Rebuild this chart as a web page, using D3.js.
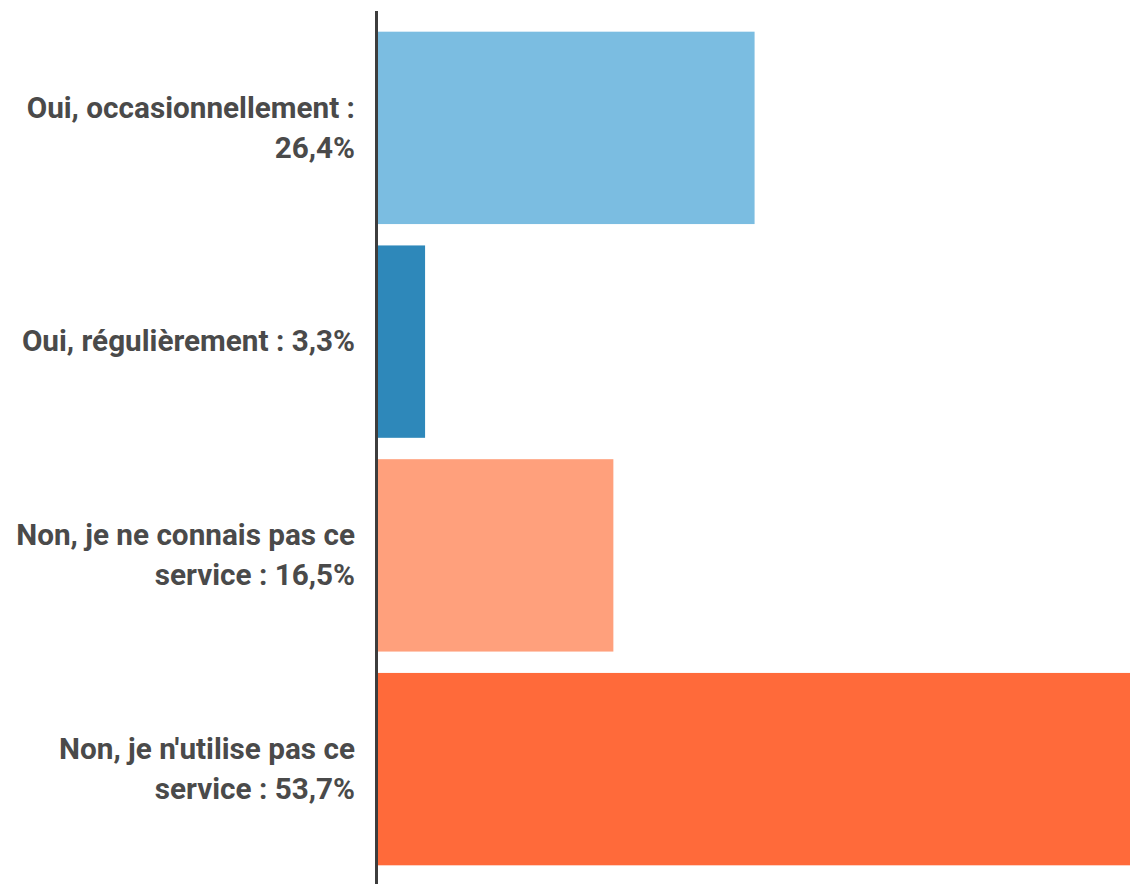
<!DOCTYPE html>
<html><head><meta charset="utf-8">
<script src="https://cdn.jsdelivr.net/npm/d3@7"></script>
<style>html,body{margin:0;padding:0;background:#fff;}svg{display:block;}</style>
</head><body>
<svg id="chart" width="1130" height="884"></svg>
<script>
const categories = ["Oui, occasionnellement", "Oui, régulièrement", "Non, je ne connais pas ce service", "Non, je n'utilise pas ce service"];
const values = [26.4, 3.3, 16.5, 53.7];
const valueLabels = ["26,4%", "3,3%", "16,5%", "53,7%"];
const colors = ["#7bbde1", "#2e88ba", "#ffa07c", "#ff6a3a"];

const svg = d3.select("#chart");
const W = 1130, H = 884;
const axisX = 378;
const x = d3.scaleLinear().domain([0, 53.7]).range([axisX, 1144]);
const y = d3.scaleBand().domain(categories).range([21, 876]).paddingInner(0.1).paddingOuter(0.05);

svg.append("g").selectAll("rect").data(categories).join("rect")
  .attr("x", x(0))
  .attr("y", d => y(d))
  .attr("width", (d, i) => x(values[i]) - x(0))
  .attr("height", y.bandwidth())
  .attr("fill", (d, i) => colors[i]);

svg.append("line").attr("x1", axisX - 1.5).attr("x2", axisX - 1.5)
  .attr("y1", 11).attr("y2", H).attr("stroke", "#3d3d3d").attr("stroke-width", 3);

const fs = 29.7, lh = 40, maxW = 346, rightX = 355;
const g = svg.append("g").attr("font-family", "Roboto, sans-serif").attr("font-weight", 700)
  .attr("font-size", fs).attr("fill", "#4a4a4a").attr("text-anchor", "end");

categories.forEach((c, i) => {
  const full = c + " : " + valueLabels[i];
  const words = full.split(" ");
  const t = g.append("text").attr("x", rightX);
  let lines = [], cur = [];
  const probe = t.append("tspan");
  words.forEach(w => {
    const test = cur.concat([w]).join(" ");
    probe.text(test);
    if (probe.node().getComputedTextLength() > maxW && cur.length) {
      lines.push(cur.join(" ")); cur = [w];
    } else cur.push(w);
  });
  lines.push(cur.join(" "));
  probe.remove();
  const cy = y(c) + y.bandwidth() / 2;
  const y0 = cy - (lines.length - 1) * lh / 2;
  lines.forEach((l, k) => {
    t.append("tspan").attr("x", rightX).attr("y", y0 + k * lh).attr("dy", "0.33em").text(l);
  });
});
</script>
</body></html>
